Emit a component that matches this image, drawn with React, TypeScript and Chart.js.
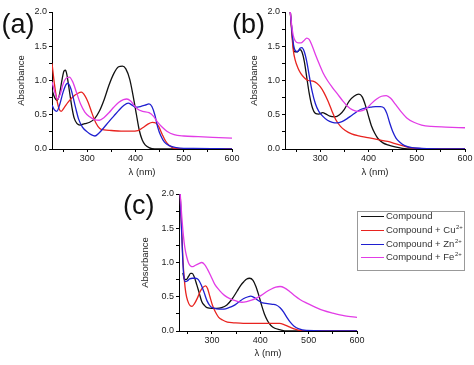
import React, { useEffect, useRef } from "react";
import { Chart, registerables } from "chart.js";

Chart.register(...registerables);

type Pt = [number, number];

// ---------- Panel (a) ----------
const aCompound: Pt[] = [
  [227, 0.86], [232, 0.76], [237, 0.71], [242, 0.78], [247, 0.98], [252, 1.14], [255, 1.15], [258, 1.08],
  [263, 0.85], [268, 0.62], [273, 0.45], [279, 0.37], [285, 0.35], [295, 0.37], [305, 0.39], [315, 0.44],
  [325, 0.55], [335, 0.72], [345, 0.93], [355, 1.1], [365, 1.2], [373, 1.21], [380, 1.17], [388, 1.02],
  [395, 0.78], [402, 0.5], [408, 0.27], [414, 0.13], [420, 0.06], [428, 0.02], [440, 0.0], [600, 0.0],
];
const aCu: Pt[] = [
  [227, 1.25], [232, 0.95], [237, 0.72], [242, 0.58], [246, 0.55], [252, 0.6], [260, 0.68], [270, 0.76],
  [280, 0.81], [288, 0.83], [295, 0.78], [302, 0.68], [310, 0.52], [318, 0.38], [326, 0.3], [335, 0.28],
  [350, 0.27], [370, 0.26], [390, 0.26], [405, 0.27], [415, 0.31], [425, 0.36], [435, 0.39], [442, 0.38],
  [448, 0.33], [455, 0.22], [462, 0.12], [470, 0.05], [480, 0.01], [495, 0.0], [600, 0.0],
];
const aZn: Pt[] = [
  [227, 0.64], [232, 0.57], [237, 0.55], [243, 0.65], [250, 0.83], [256, 0.94], [260, 0.96], [265, 0.9],
  [270, 0.78], [276, 0.6], [282, 0.44], [290, 0.32], [300, 0.25], [308, 0.21], [316, 0.19], [324, 0.23],
  [333, 0.3], [345, 0.4], [355, 0.48], [365, 0.56], [375, 0.63], [385, 0.67], [393, 0.64], [400, 0.61],
  [410, 0.62], [420, 0.64], [428, 0.66], [434, 0.62], [440, 0.5], [446, 0.32], [452, 0.2], [460, 0.1],
  [470, 0.05], [485, 0.02], [500, 0.01], [520, 0.01], [600, 0.0],
];
const aFe: Pt[] = [
  [227, 0.98], [232, 0.85], [238, 0.73], [244, 0.8], [250, 0.95], [256, 1.03], [263, 1.05], [270, 0.98],
  [278, 0.82], [286, 0.66], [295, 0.54], [305, 0.47], [315, 0.43], [325, 0.42], [335, 0.46], [345, 0.53],
  [355, 0.61], [365, 0.68], [375, 0.72], [382, 0.73], [390, 0.7], [398, 0.63], [405, 0.58], [415, 0.55],
  [428, 0.53], [437, 0.48], [445, 0.4], [455, 0.32], [465, 0.26], [480, 0.21], [500, 0.19], [530, 0.18],
  [560, 0.17], [600, 0.16],
];

// ---------- Panel (b) ----------
const bCompound: Pt[] = [
  [238, 2.0], [241, 1.75], [244, 1.5], [247, 1.42], [252, 1.42], [258, 1.45], [262, 1.42], [267, 1.28],
  [272, 1.05], [277, 0.82], [283, 0.62], [290, 0.52], [297, 0.51], [305, 0.53], [312, 0.51], [320, 0.48],
  [330, 0.47], [340, 0.5], [350, 0.58], [360, 0.7], [370, 0.77], [380, 0.8], [387, 0.76], [394, 0.63],
  [400, 0.48], [406, 0.34], [413, 0.23], [420, 0.15], [430, 0.09], [440, 0.06], [455, 0.03], [470, 0.01],
  [490, 0.0], [600, 0.0],
];
const bCu: Pt[] = [
  [238, 2.0], [241, 1.7], [244, 1.45], [248, 1.3], [254, 1.18], [260, 1.1], [267, 1.04], [275, 1.0],
  [285, 0.99], [293, 0.96], [300, 0.91], [308, 0.82], [316, 0.7], [324, 0.56], [332, 0.43], [342, 0.33],
  [352, 0.27], [365, 0.22], [380, 0.19], [395, 0.17], [410, 0.15], [425, 0.13], [440, 0.11], [455, 0.08],
  [470, 0.05], [485, 0.02], [500, 0.01], [600, 0.0],
];
const bZn: Pt[] = [
  [238, 2.0], [241, 1.75], [244, 1.55], [248, 1.44], [253, 1.42], [258, 1.47], [262, 1.48], [267, 1.42],
  [272, 1.28], [277, 1.08], [283, 0.85], [290, 0.66], [297, 0.55], [305, 0.48], [315, 0.42], [325, 0.39],
  [335, 0.38], [345, 0.4], [355, 0.44], [365, 0.49], [375, 0.54], [385, 0.58], [395, 0.6], [405, 0.61],
  [415, 0.62], [425, 0.62], [432, 0.6], [438, 0.52], [444, 0.38], [450, 0.26], [457, 0.16], [465, 0.1],
  [475, 0.05], [490, 0.02], [510, 0.01], [600, 0.0],
];
const bFe: Pt[] = [
  [238, 2.0], [241, 1.8], [244, 1.66], [248, 1.58], [254, 1.55], [260, 1.55], [266, 1.58], [272, 1.62],
  [277, 1.6], [283, 1.51], [290, 1.38], [298, 1.24], [306, 1.11], [315, 1.0], [325, 0.9], [336, 0.8],
  [347, 0.7], [357, 0.62], [367, 0.57], [377, 0.55], [387, 0.56], [397, 0.6], [407, 0.67], [417, 0.73],
  [427, 0.77], [437, 0.78], [446, 0.74], [456, 0.65], [467, 0.55], [480, 0.45], [494, 0.39], [510, 0.35],
  [530, 0.33], [560, 0.32], [600, 0.31],
];

// ---------- Panel (c) ----------
const cCompound: Pt[] = [
  [240, 0.85], [243, 0.76], [247, 0.75], [252, 0.8], [256, 0.84], [259, 0.84], [263, 0.8], [269, 0.67],
  [274, 0.55], [279, 0.43], [285, 0.37], [290, 0.34], [300, 0.33], [310, 0.33], [320, 0.34], [331, 0.38],
  [341, 0.46], [352, 0.58], [360, 0.67], [366, 0.72], [372, 0.76], [378, 0.77], [385, 0.74], [391, 0.65],
  [397, 0.52], [403, 0.37], [409, 0.24], [415, 0.15], [422, 0.08], [430, 0.04], [440, 0.02], [455, 0.0],
  [600, 0.0],
];
const cCu: Pt[] = [
  [234.5, 2.0], [236, 1.7], [238, 1.4], [240, 1.05], [243, 0.75], [246, 0.56], [250, 0.44], [255, 0.37],
  [259, 0.36], [264, 0.4], [270, 0.48], [276, 0.58], [282, 0.64], [287, 0.66], [291, 0.62], [296, 0.5],
  [301, 0.38], [307, 0.28], [314, 0.2], [322, 0.16], [332, 0.13], [345, 0.12], [365, 0.11], [385, 0.11],
  [405, 0.11], [425, 0.11], [440, 0.11], [450, 0.09], [460, 0.06], [470, 0.03], [480, 0.01], [495, 0.0],
  [600, 0.0],
];
const cZn: Pt[] = [
  [234.5, 2.0], [236, 1.7], [238, 1.35], [240, 1.0], [242, 0.8], [245, 0.72], [249, 0.73], [254, 0.76],
  [260, 0.77], [266, 0.77], [272, 0.75], [278, 0.67], [284, 0.56], [290, 0.44], [297, 0.36], [305, 0.33],
  [315, 0.32], [325, 0.32], [335, 0.34], [345, 0.37], [355, 0.42], [365, 0.47], [375, 0.5], [380, 0.51],
  [387, 0.49], [395, 0.45], [405, 0.41], [415, 0.4], [425, 0.39], [433, 0.38], [441, 0.34], [448, 0.28],
  [455, 0.2], [462, 0.13], [470, 0.07], [480, 0.03], [495, 0.01], [600, 0.0],
];
const cFe: Pt[] = [
  [234.5, 2.0], [236, 1.85], [238, 1.65], [241, 1.4], [244, 1.22], [248, 1.08], [252, 0.99], [256, 0.95],
  [261, 0.94], [266, 0.96], [272, 0.98], [279, 1.0], [285, 0.97], [291, 0.9], [298, 0.8], [306, 0.68],
  [316, 0.59], [326, 0.52], [338, 0.47], [350, 0.44], [362, 0.42], [372, 0.43], [382, 0.45], [392, 0.48],
  [402, 0.52], [412, 0.57], [422, 0.61], [432, 0.64], [441, 0.65], [450, 0.63], [462, 0.57], [472, 0.51],
  [482, 0.46], [495, 0.41], [510, 0.36], [530, 0.3], [550, 0.26], [575, 0.22], [600, 0.2],
];

// ---------- Axes / legend ----------
const xTickValues = [250, 300, 350, 400, 450, 500, 550, 600];
const yTickValues = [0, 0.25, 0.5, 0.75, 1.0, 1.25, 1.5, 1.75, 2.0];
const seriesNames = ["Compound", "Compound + Cu", "Compound + Zn", "Compound + Fe"];
const seriesSup = ["", "2+", "2+", "2+"];
const seriesColors = ["#111111", "#e8231f", "#1f1fd0", "#e23ce6"];
const drawOrder = [3, 2, 1, 0];
const legendRowY = [216, 230, 244, 257];

const FONT = "'Liberation Sans', Arial, Helvetica, sans-serif";
const TITLE_SIZE = 9.5;
const TITLE_LH = TITLE_SIZE * 1.2;

type PanelProps = {
  series: Pt[][];
  xMin: number;
  area: { l: number; r: number; t: number; b: number };
  yTitleX: number;
  xTitleY: number;
  canvasBox: { left: number; top: number; width: number; height: number };
};

function Panel({ series, xMin, area, yTitleX, xTitleY, canvasBox }: PanelProps) {
  const ref = useRef<HTMLCanvasElement | null>(null);
  useEffect(() => {
    if (!ref.current) return;
    const { left: cl, top: ct, width: cw, height: ch } = canvasBox;
    const padL = yTitleX - TITLE_LH / 2 - cl;
    const yWidth = area.l - cl - padL;
    const padT = area.t - ct;
    const xHeight = xTitleY + TITLE_LH / 2 - area.b;
    const padB = ch - (area.b - ct) - xHeight;
    const padR = cl + cw - area.r;

    const chart = new Chart(ref.current, {
      type: "line",
      data: {
        datasets: series.map((pts, i) => ({
          label: seriesNames[i] + seriesSup[i],
          data: pts.map(([x, y]) => ({ x, y })),
          borderColor: seriesColors[i],
          backgroundColor: seriesColors[i],
          borderWidth: 1.3,
          pointRadius: 0,
          cubicInterpolationMode: "monotone" as const,
          fill: false,
          order: drawOrder[i],
        })),
      },
      options: {
        animation: false,
        responsive: false,
        maintainAspectRatio: false,
        events: [],
        layout: { padding: { left: padL, top: padT, right: padR, bottom: padB } },
        plugins: { legend: { display: false }, tooltip: { enabled: false } },
        scales: {
          x: {
            type: "linear",
            min: xMin,
            max: 600,
            afterBuildTicks: (s: any) => {
              s.ticks = xTickValues.map((v) => ({ value: v }));
            },
            afterFit: (s: any) => {
              s.height = xHeight;
            },
            ticks: {
              autoSkip: false,
              maxRotation: 0,
              padding: 1,
              color: "#222",
              font: { size: 9, family: FONT },
              callback: (v: any) => (Number(v) % 100 === 0 ? String(v) : ""),
            },
            grid: { drawOnChartArea: false, drawTicks: true, tickLength: 3, tickColor: "#000" },
            border: { display: true, color: "#000", width: 1 },
            title: {
              display: true,
              text: "λ (nm)",
              color: "#222",
              padding: 0,
              font: { size: TITLE_SIZE, family: FONT },
            },
          },
          y: {
            type: "linear",
            min: 0,
            max: 2,
            afterBuildTicks: (s: any) => {
              s.ticks = yTickValues.map((v) => ({ value: v }));
            },
            afterFit: (s: any) => {
              s.width = yWidth;
            },
            ticks: {
              autoSkip: false,
              padding: 2,
              color: "#222",
              font: { size: 9, family: FONT },
              callback: (v: any) => {
                const n = Number(v);
                return Math.abs(n * 2 - Math.round(n * 2)) < 1e-6 ? n.toFixed(1) : "";
              },
            },
            grid: { drawOnChartArea: false, drawTicks: true, tickLength: 3, tickColor: "#000" },
            border: { display: true, color: "#000", width: 1 },
            title: {
              display: true,
              text: "Absorbance",
              color: "#222",
              padding: 0,
              font: { size: TITLE_SIZE, family: FONT },
            },
          },
        },
      },
    });
    return () => chart.destroy();
  }, []);
  return (
    <canvas
      ref={ref}
      width={canvasBox.width}
      height={canvasBox.height}
      style={{
        position: "absolute",
        left: canvasBox.left,
        top: canvasBox.top,
        width: canvasBox.width,
        height: canvasBox.height,
      }}
    />
  );
}

function PanelLabel({ text, left, top }: { text: string; left: number; top: number }) {
  return (
    <div
      style={{
        position: "absolute",
        left,
        top,
        fontFamily: FONT,
        fontSize: 27,
        lineHeight: "27px",
        color: "#111",
        whiteSpace: "nowrap",
      }}
    >
      {text}
    </div>
  );
}

function Legend() {
  return (
    <div
      style={{
        position: "absolute",
        left: 357,
        top: 211,
        width: 108,
        height: 60,
        border: "1px solid #999",
        boxSizing: "border-box",
        background: "#fff",
      }}
    >
      {seriesNames.map((name, i) => {
        const cy = legendRowY[i] - 211;
        return (
          <React.Fragment key={name}>
            <div
              style={{
                position: "absolute",
                left: 3,
                top: cy - 1,
                width: 23,
                height: 1.3,
                background: seriesColors[i],
              }}
            />
            <div
              style={{
                position: "absolute",
                left: 28,
                top: cy - 7,
                height: 12,
                lineHeight: "12px",
                fontFamily: FONT,
                fontSize: 9.5,
                color: "#333",
                whiteSpace: "nowrap",
              }}
            >
              {name}
              {seriesSup[i] ? (
                <span style={{ fontSize: 6, position: "relative", top: -4, marginLeft: 0.5 }}>
                  {seriesSup[i]}
                </span>
              ) : null}
            </div>
          </React.Fragment>
        );
      })}
    </div>
  );
}

export default function App() {
  return (
    <div
      style={{
        position: "absolute",
        left: 0,
        top: 0,
        width: 474,
        height: 365,
        background: "#fff",
        overflow: "hidden",
      }}
    >
      <Panel
        series={[aCompound, aCu, aZn, aFe]}
        xMin={227}
        area={{ l: 52, r: 232, t: 12, b: 149 }}
        yTitleX={21}
        xTitleY={172.7}
        canvasBox={{ left: 10, top: 0, width: 232, height: 182 }}
      />
      <Panel
        series={[bCompound, bCu, bZn, bFe]}
        xMin={227}
        area={{ l: 285, r: 465, t: 12, b: 149 }}
        yTitleX={254}
        xTitleY={172.7}
        canvasBox={{ left: 240, top: 0, width: 234, height: 182 }}
      />
      <Panel
        series={[cCompound, cCu, cZn, cFe]}
        xMin={232}
        area={{ l: 179, r: 357, t: 194, b: 331 }}
        yTitleX={145}
        xTitleY={353.3}
        canvasBox={{ left: 130, top: 180, width: 240, height: 185 }}
      />
      <PanelLabel text="(a)" left={1.5} top={11} />
      <PanelLabel text="(b)" left={232} top={11} />
      <PanelLabel text="(c)" left={123} top={191.5} />
      <Legend />
    </div>
  );
}
